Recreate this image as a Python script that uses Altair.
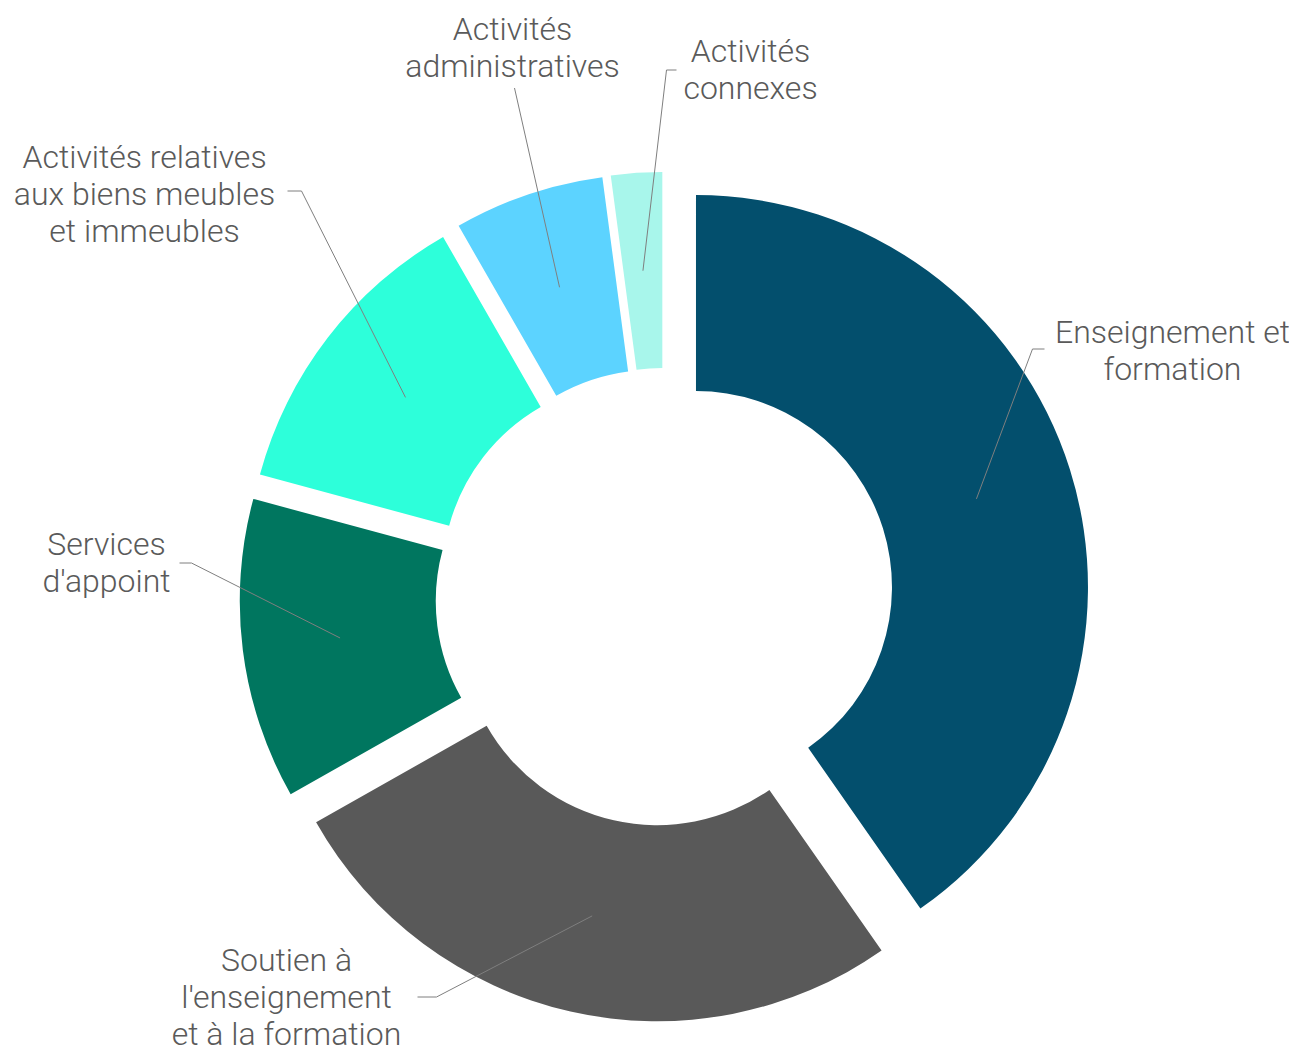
import math
import numpy as np
import pandas as pd
import altair as alt

# ---- data ----
labels = [
    "Enseignement et formation",
    "Soutien à l'enseignement et à la formation",
    "Services d'appoint",
    "Activités relatives aux biens meubles et immeubles",
    "Activités administratives",
    "Activités connexes",
]
label_text = [
    "Enseignement et\nformation",
    "Soutien à\nl'enseignement\net à la formation",
    "Services\nd'appoint",
    "Activités relatives\naux biens meubles\net immeubles",
    "Activités\nadministratives",
    "Activités\nconnexes",
]
values = [40.3, 26.5, 12.4, 12.5, 6.2, 2.1]
colors = ["#034F6D", "#595959", "#00765F", "#2DFFDA", "#5CD3FF", "#A8F6EB"]

# ---- layout (pixels, chart space) ----
W, H = 1281, 1044
CX, CY = 656.5, 589.0       # centre of the ring
EXPLODE = 33                 # slice offset from centre
R_OUT, R_IN = 392, 196
LEAD_R = (R_OUT + R_IN) / 2  # leader lines start mid-ring
FONT = "Roboto"
FS = 32
LH = 37
TEXT_COL = "#5A5A5A"
LINE_COL = "#7F7F7F"

# first-line centre of each label block and leader elbow / end, relative to ring centre
label_pos = [(508, -264), (-378, 364), (-558, -52), (-520, -439), (-152, -567), (86, -545)]
elbow_pos = [(368, -248), (-228, 400), (-473, -34), (-363, -406), (-150, -509), (2, -527)]
end_pos = [(380, -248), (-247, 400), (-485, -34), (-377, -406), (-150, -509), (12, -527)]

n = len(values)
total = float(sum(values))
cum = np.cumsum(values)
t0 = (cum - np.array(values)) / total * 2 * math.pi
t1 = cum / total * 2 * math.pi
mid = (t0 + t1) / 2

df = pd.DataFrame({"idx": range(n), "label": labels, "value": values})

arcs = (
    alt.Chart(df)
    .transform_window(cum="sum(value)", sort=[alt.SortField("idx")], frame=[None, 0])
    .transform_joinaggregate(total="sum(value)")
    .transform_calculate(t0="(datum.cum - datum.value) / datum.total * 2 * PI")
    .transform_calculate(t1="datum.cum / datum.total * 2 * PI")
    .transform_calculate(mid="(datum.t0 + datum.t1) / 2")
    .transform_calculate(px=f"{CX} + {EXPLODE} * sin(datum.mid)")
    .transform_calculate(py=f"{CY} - {EXPLODE} * cos(datum.mid)")
    .mark_arc(innerRadius=R_IN, outerRadius=R_OUT)
    .encode(
        theta=alt.Theta("t0:Q", scale=None),
        theta2="t1:Q",
        x=alt.X("px:Q", scale=None, axis=None),
        y=alt.Y("py:Q", scale=None, axis=None),
        color=alt.Color("label:N", scale=alt.Scale(domain=labels, range=colors), legend=None),
    )
)

# leader lines: start in the middle of each (exploded) slice
rows = []
for i in range(n):
    sx = CX + EXPLODE * math.sin(mid[i]) + LEAD_R * math.sin(mid[i])
    sy = CY - EXPLODE * math.cos(mid[i]) - LEAD_R * math.cos(mid[i])
    pts = [(sx, sy), (CX + elbow_pos[i][0], CY + elbow_pos[i][1]), (CX + end_pos[i][0], CY + end_pos[i][1])]
    for k, (x, y) in enumerate(pts):
        rows.append({"label": labels[i], "k": k, "x": x, "y": y})
lead_df = pd.DataFrame(rows)

leaders = (
    alt.Chart(lead_df)
    .mark_line(color=LINE_COL, strokeWidth=1)
    .encode(
        x=alt.X("x:Q", scale=None, axis=None),
        y=alt.Y("y:Q", scale=None, axis=None),
        detail="label:N",
        order="k:Q",
    )
)

text_df = pd.DataFrame({
    "label": labels,
    "txt": label_text,
    "x": [CX + p[0] for p in label_pos],
    "y": [CY + p[1] for p in label_pos],
})
texts = (
    alt.Chart(text_df)
    .mark_text(align="center", baseline="middle", lineBreak="\n", font=FONT,
               fontSize=FS, fontWeight=300, lineHeight=LH, color=TEXT_COL)
    .encode(
        x=alt.X("x:Q", scale=None, axis=None),
        y=alt.Y("y:Q", scale=None, axis=None),
        text="txt:N",
    )
)

chart = (
    alt.layer(arcs, leaders, texts)
    .properties(width=W, height=H, padding=0, autosize=alt.AutoSizeParams(type="none"),
                background="white")
    .configure_view(stroke=None)
)

chart.save("out.html", embed_options={"renderer": "svg", "actions": False})
